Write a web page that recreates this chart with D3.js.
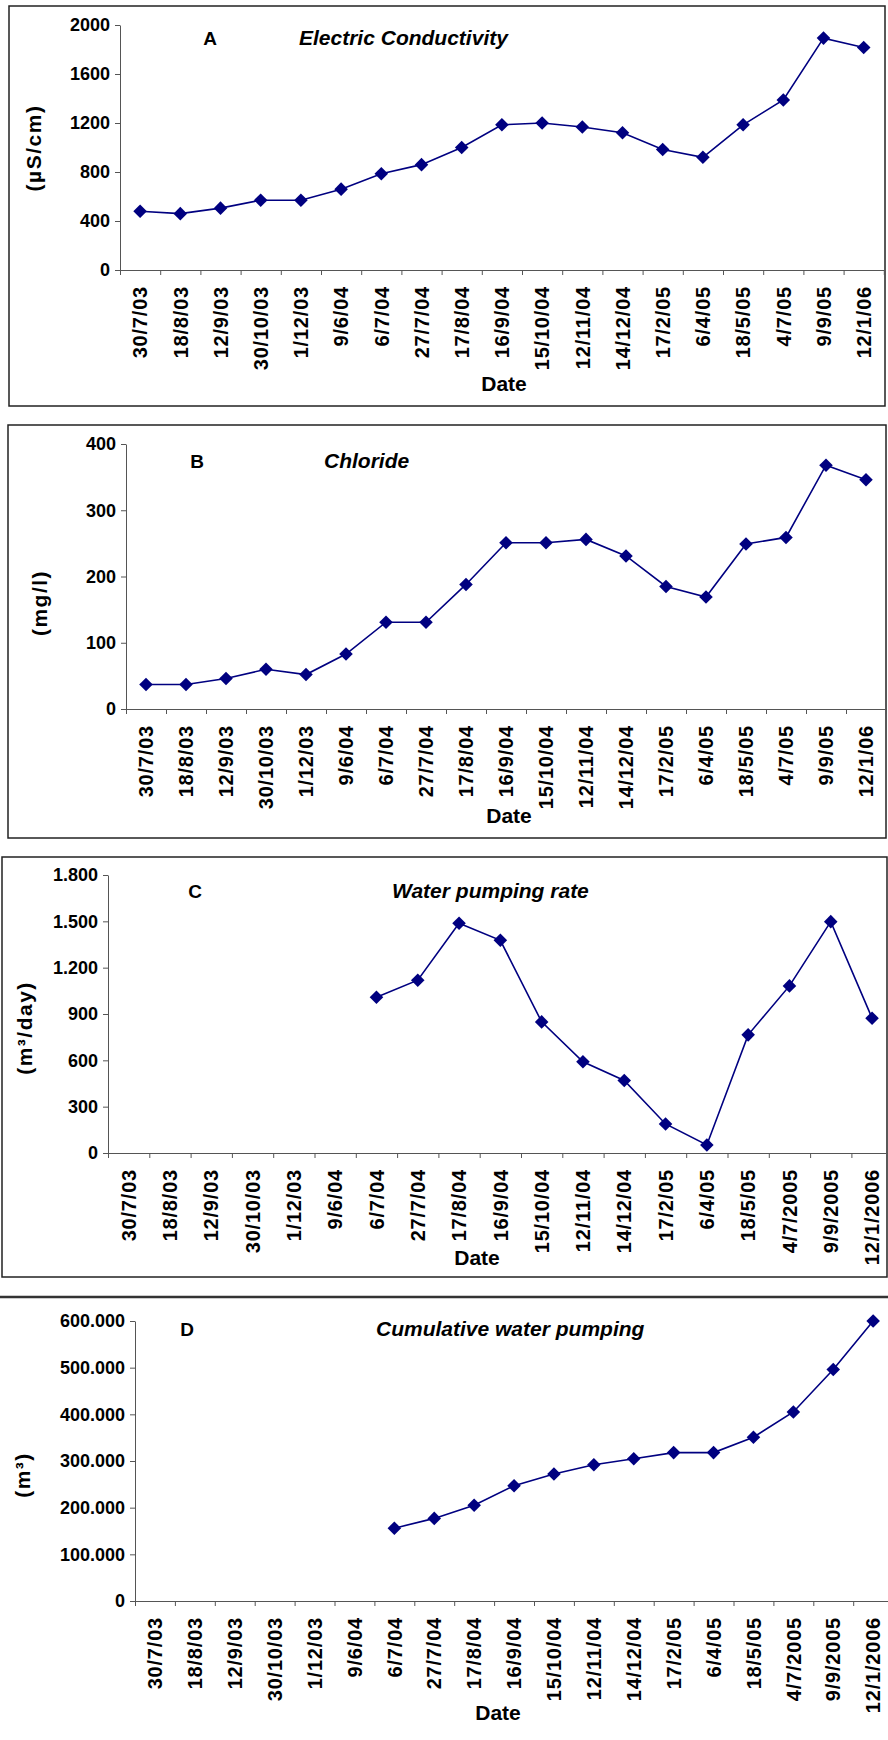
<!DOCTYPE html>
<html>
<head>
<meta charset="utf-8">
<script src="https://cdn.jsdelivr.net/npm/d3@7"></script>
<style>
	body { margin: 0; background: #fff; }
	svg text { font-family: "Liberation Sans", Arial, sans-serif; font-weight: bold; fill: #000; }
</style>
</head>
<body>
<svg id="chart" width="888" height="1740"></svg>
<script>

// sampling dates (A and B use the short labels, C and D write the last three with full years)
const datesAB = ["30/7/03", "18/8/03", "12/9/03", "30/10/03", "1/12/03", "9/6/04", "6/7/04", "27/7/04",
	"17/8/04", "16/9/04", "15/10/04", "12/11/04", "14/12/04", "17/2/05", "6/4/05", "18/5/05",
	"4/7/05", "9/9/05", "12/1/06"];
const datesCD = ["30/7/03", "18/8/03", "12/9/03", "30/10/03", "1/12/03", "9/6/04", "6/7/04", "27/7/04",
	"17/8/04", "16/9/04", "15/10/04", "12/11/04", "14/12/04", "17/2/05", "6/4/05", "18/5/05",
	"4/7/2005", "9/9/2005", "12/1/2006"];

// series values
const conductivity = [480, 460, 505, 570, 570, 660, 785, 860, 1000, 1185, 1200, 1168, 1120, 983, 920, 1185, 1388, 1893, 1816];
const chloride = [37, 37, 46, 60, 52, 83, 131, 131, 188, 251, 251, 256, 231, 185, 169, 249, 259, 368, 346];
const pumpingRate = [null, null, null, null, null, null, 1009, 1119, 1487, 1377, 849, 591, 470, 188, 52, 765, 1082, 1498, 873];
const cumulativePumping = [null, null, null, null, null, null, 156000, 177000, 205000, 247000, 272000, 292000, 305000, 318000, 318000, 351000, 405000, 496000, 600000];

// y tick values
const ticksA = [0, 400, 800, 1200, 1600, 2000];
const ticksB = [0, 100, 200, 300, 400];
const ticksC = [0, 300, 600, 900, 1200, 1500, 1800];
const ticksD = [0, 100000, 200000, 300000, 400000, 500000, 600000];

// C and D write thousands with a dot, A and B have no separator
const euro = d3.formatLocale({decimal: ",", thousands: ".", grouping: [3], currency: ["", ""]});
const fmtDot = euro.format(",d");
const fmtPlain = d3.format("d");

const svg = d3.select("#chart");

class PanelChart {

	constructor(svg, cfg) {
		this.svg = svg;
		this.cfg = cfg;
		this.initVis();
	}

	initVis() {
		let vis = this;
		let c = vis.cfg;

		vis.g = vis.svg.append("g");

		// frame round the panel
		if (c.frame === "box") {
			vis.g.append("rect")
				.attr("x", c.box[0]).attr("y", c.box[1])
				.attr("width", c.box[2] - c.box[0]).attr("height", c.box[3] - c.box[1])
				.attr("fill", "none").attr("stroke", "#222").attr("stroke-width", 1.5);
		} else {
			vis.g.append("line")
				.attr("x1", 0).attr("x2", 888)
				.attr("y1", c.box[1]).attr("y2", c.box[1])
				.attr("stroke", "#333").attr("stroke-width", 2.5);
		}

		// scales
		vis.x = d3.scaleBand()
			.domain(c.dates)
			.range([c.x0, c.x0 + c.band * c.dates.length]);

		vis.edges = d3.scaleLinear()
			.domain([0, c.dates.length])
			.range(vis.x.range());

		vis.y = d3.scaleLinear()
			.domain(d3.extent(c.ticks))
			.range([c.y0, c.yTop]);

		// y axis
		vis.g.append("g")
			.attr("class", "axis axis-y")
			.attr("transform", "translate(" + c.x0 + ",0)")
			.call(d3.axisLeft(vis.y).tickValues(c.ticks).tickSize(5).tickSizeOuter(0).tickPadding(5).tickFormat(c.format))
			.call(g => g.selectAll("line, path").attr("stroke", "#555"))
			.call(g => g.selectAll("text")
				.attr("font-family", "Liberation Sans, Arial, sans-serif")
				.attr("font-size", 18));

		// x axis: tick marks at the category boundaries
		vis.g.append("g")
			.attr("transform", "translate(0," + c.y0 + ")")
			.call(d3.axisBottom(vis.edges).tickValues(d3.range(0, c.dates.length + 1)).tickSize(5).tickSizeOuter(0).tickFormat(""))
			.call(g => g.selectAll("line, path").attr("stroke", "#555"));

		// x labels, turned upright
		vis.g.append("g")
			.attr("transform", "translate(0," + c.y0 + ")")
			.call(d3.axisBottom(vis.x).tickSize(0).tickPadding(0))
			.call(g => g.select(".domain").remove())
			.call(g => g.selectAll("text")
				.attr("font-family", "Liberation Sans, Arial, sans-serif")
				.attr("font-size", 20)
				.attr("letter-spacing", 0.8)
				.attr("transform", "rotate(-90)")
				.attr("text-anchor", "end")
				.attr("x", -c.labelGap)
				.attr("y", 0)
				.attr("dy", "0.36em"));

		let cx = (d, i) => vis.x(c.dates[i]) + vis.x.bandwidth() / 2;

		vis.line = d3.line()
			.defined(d => d != null)
			.x(cx)
			.y(d => vis.y(d));

		vis.g.append("path")
			.datum(c.values)
			.attr("d", vis.line)
			.attr("fill", "none")
			.attr("stroke", "#000080")
			.attr("stroke-width", 1.6);

		vis.g.selectAll(".marker")
			.data(c.values.map((v, i) => ({v: v, i: i})).filter(d => d.v != null))
			.enter().append("path")
			.attr("class", "marker")
			.attr("d", d3.symbol(d3.symbolSquare, 92))
			.attr("fill", "#000080")
			.attr("transform", d => "translate(" + cx(d.v, d.i) + "," + vis.y(d.v) + ") rotate(45)");

		// panel letter and title
		vis.g.append("text")
			.attr("x", c.letterX).attr("y", c.titleY)
			.attr("text-anchor", "middle")
			.attr("font-size", 19)
			.text(c.letter);

		vis.g.append("text")
			.attr("x", c.titleX).attr("y", c.titleY)
			.attr("font-size", 21)
			.attr("font-style", "italic")
			.text(c.title);

		// axis titles
		vis.g.append("text")
			.attr("x", c.dateX).attr("y", c.dateY)
			.attr("text-anchor", "middle")
			.attr("font-size", 21)
			.text("Date");

		vis.g.append("text")
			.attr("transform", "translate(" + c.unitX + "," + c.unitY + ") rotate(-90)")
			.attr("text-anchor", "middle")
			.attr("dy", "0.35em")
			.attr("font-size", 21)
			.attr("letter-spacing", 1.5)
			.text(c.unit);
	}
}

new PanelChart(svg, {
	frame: "box", box: [9, 6, 885, 406],
	dates: datesAB, values: conductivity, ticks: ticksA, format: fmtPlain,
	x0: 120, band: 40.2, y0: 270, yTop: 25, labelGap: 16,
	letter: "A", letterX: 210, title: "Electric Conductivity", titleX: 299, titleY: 45,
	dateX: 504, dateY: 391, unit: "(µS/cm)", unitX: 34, unitY: 148
});

new PanelChart(svg, {
	frame: "box", box: [8, 425, 886, 838],
	dates: datesAB, values: chloride, ticks: ticksB, format: fmtPlain,
	x0: 126, band: 40, y0: 709, yTop: 444, labelGap: 16,
	letter: "B", letterX: 197, title: "Chloride", titleX: 324, titleY: 468,
	dateX: 509, dateY: 823, unit: "(mg/l)", unitX: 40, unitY: 603
});

new PanelChart(svg, {
	frame: "box", box: [2, 857, 887, 1277],
	dates: datesCD, values: pumpingRate, ticks: ticksC, format: fmtDot,
	x0: 108, band: 41.3, y0: 1153, yTop: 875, labelGap: 16,
	letter: "C", letterX: 195, title: "Water pumping rate", titleX: 392, titleY: 898,
	dateX: 477, dateY: 1265, unit: "(m³/day)", unitX: 25, unitY: 1028
});

new PanelChart(svg, {
	frame: "top", box: [0, 1297, 888, 1740],
	dates: datesCD, values: cumulativePumping, ticks: ticksD, format: fmtDot,
	x0: 135, band: 39.9, y0: 1601, yTop: 1321, labelGap: 16,
	letter: "D", letterX: 187, title: "Cumulative water pumping", titleX: 376, titleY: 1336,
	dateX: 498, dateY: 1720, unit: "(m³)", unitX: 23, unitY: 1475
});

</script>
</body>
</html>
